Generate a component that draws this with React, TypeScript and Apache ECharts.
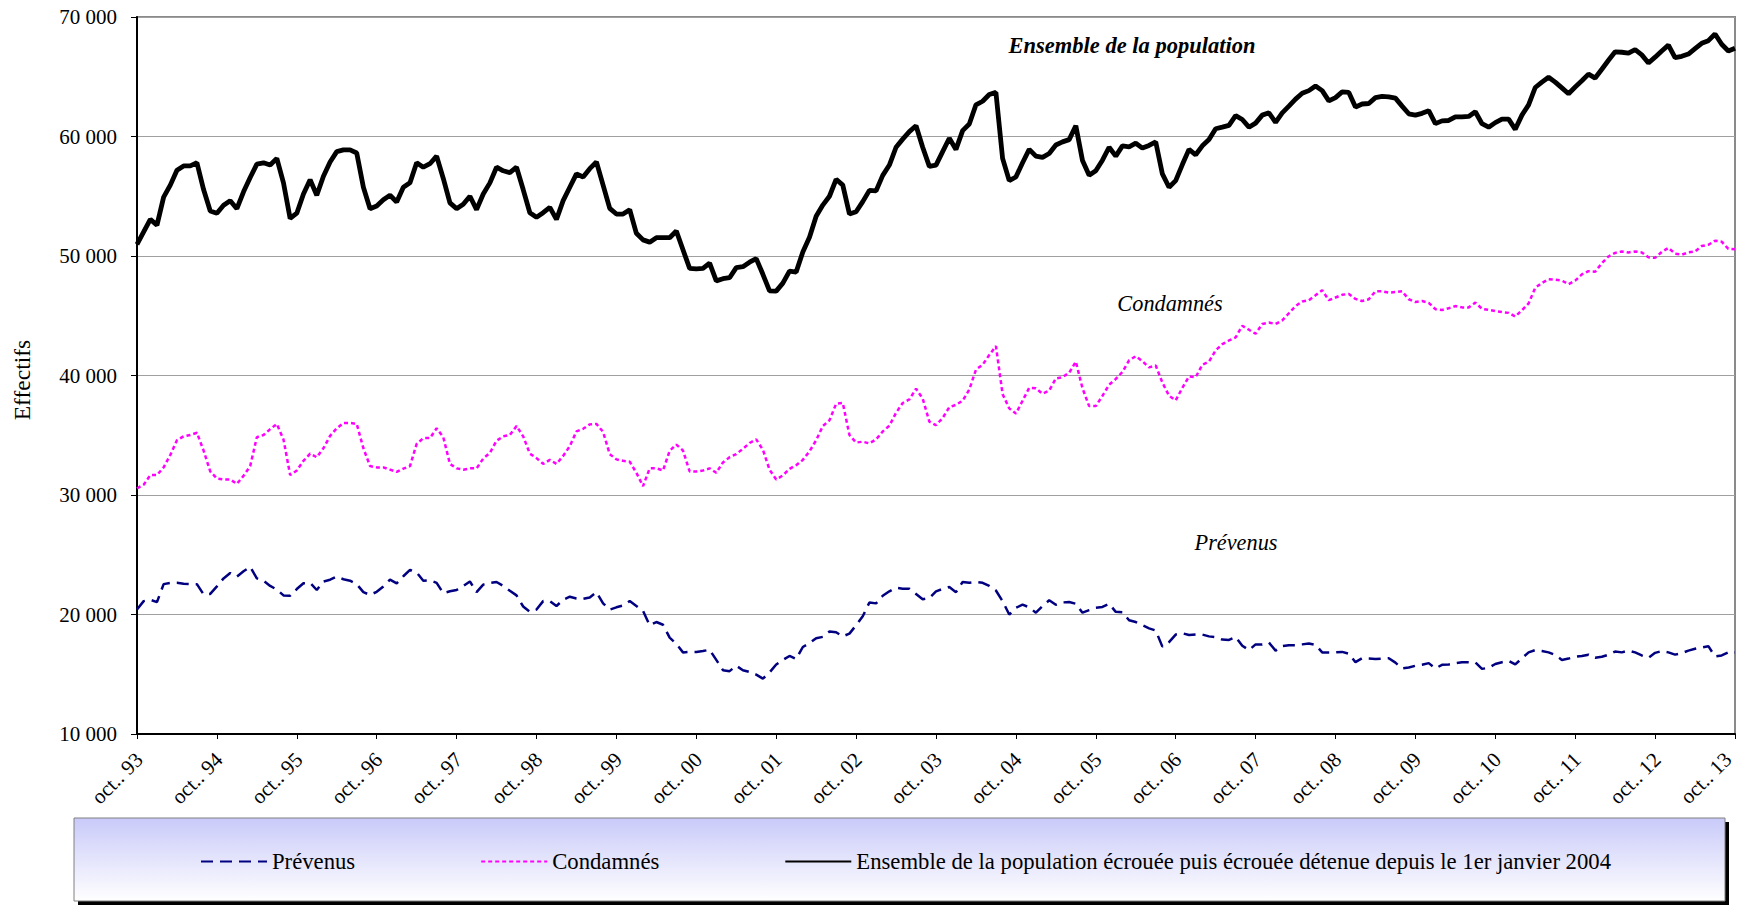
import React, { useEffect, useRef } from "react";
import * as echarts from "echarts";

// Monthly categories, octobre 1993 -> octobre 2013
const MONTH_ABBR = ["janv.", "févr.", "mars", "avr.", "mai", "juin", "juil.", "août", "sept.", "oct.", "nov.", "déc."];
const START_MONTH_INDEX = 9;
const START_YEAR = 1993;
const N_MONTHS = 241;
const CATEGORIES: string[] = [];
for (let i = 0; i < N_MONTHS; i++) {
  const k = START_MONTH_INDEX + i;
  const yy = String((START_YEAR + Math.floor(k / 12)) % 100).padStart(2, "0");
  CATEGORIES.push(`${MONTH_ABBR[k % 12]}. ${yy}`);
}

const Y_MIN = 10000;
const Y_MAX = 70000;
const Y_STEP = 10000;

const NAME_PREVENUS = "Prévenus";
const NAME_CONDAMNES = "Condamnés";
const NAME_ENSEMBLE = "Ensemble de la population écrouée puis écrouée détenue depuis le 1er janvier 2004";

const ENSEMBLE = [
  50970, 52020, 53060, 52580, 54930, 55930, 57170, 57540, 57540, 57800, 55560, 53770,
  53580, 54250, 54630, 53960, 55370, 56570, 57690, 57800, 57610, 58170, 56120, 53140,
  53580, 55190, 56380, 55080, 56680, 57870, 58730, 58880, 58880, 58620, 55750, 53960,
  54180, 54700, 55080, 54520, 55750, 56120, 57800, 57430, 57720, 58360, 56490, 54440,
  53960, 54330, 55000, 53880, 55190, 56120, 57430, 57130, 56980, 57430, 55560, 53620,
  53250, 53620, 54070, 53060, 54630, 55750, 56870, 56610, 57310, 57870, 55930, 53990,
  53510, 53510, 53880, 51900, 51350, 51160, 51530, 51530, 51530, 52090, 50520, 48960,
  48920, 48960, 49410, 47920, 48100, 48180, 49030, 49110, 49480, 49780, 48470, 47090,
  47060, 47730, 48740, 48660, 50340, 51570, 53320, 54260, 55000, 56420, 55930, 53510,
  53700, 54550, 55490, 55450, 56750, 57610, 59100, 59780, 60410, 60900, 59100, 57500,
  57610, 58730, 59850, 58920, 60490, 61040, 62650, 62950, 63510, 63690, 58170, 56310,
  56610, 57800, 58920, 58360, 58250, 58580, 59290, 59550, 59740, 60900, 57990, 56750,
  57130, 58020, 59100, 58360, 59220, 59140, 59440, 59030, 59250, 59550, 56870, 55750,
  56310, 57650, 58920, 58470, 59220, 59740, 60650, 60780, 60930, 61750, 61420, 60780,
  61120, 61790, 61980, 61190, 61980, 62540, 63130, 63620, 63840, 64220, 63840, 62980,
  63250, 63730, 63690, 62460, 62720, 62760, 63250, 63360, 63320, 63210, 62540, 61900,
  61790, 61940, 62160, 61080, 61310, 61340, 61640, 61640, 61680, 62070, 61070, 60780,
  61160, 61450, 61450, 60600, 61790, 62650, 64100, 64550, 64960, 64550, 64070, 63580,
  64140, 64660, 65220, 64890, 65630, 66380, 67090, 67050, 66980, 67270, 66830, 66150,
  66640, 67160, 67650, 66600, 66710, 66900, 67350, 67800, 68020, 68580, 67720, 67160,
  67390,
];

const CONDAMNES = [
  30560, 30860, 31670, 31670, 32310, 33350, 34580, 34910, 35020, 35210, 33720, 31970,
  31380, 31300, 31300, 30930, 31600, 32420, 34840, 35020, 35510, 35950, 34650, 31670,
  32050, 32860, 33460, 33160, 33910, 34950, 35580, 36030, 36030, 35950, 33910, 32420,
  32310, 32310, 32120, 31930, 32200, 32420, 34280, 34760, 34760, 35580, 34840, 32600,
  32230, 32120, 32230, 32230, 33050, 33530, 34540, 34910, 35020, 35770, 34910, 33460,
  33090, 32600, 32940, 32600, 33270, 34090, 35320, 35540, 35910, 35950, 35280, 33420,
  32980, 32860, 32790, 31860, 30740, 32230, 32230, 32050, 33700, 34220, 33720, 31970,
  31970, 32050, 32230, 31860, 32720, 33160, 33420, 33870, 34350, 34650, 33790, 32120,
  31300, 31640, 32190, 32490, 32940, 33650, 34580, 35770, 36250, 37630, 37700, 35020,
  34390, 34460, 34320, 34650, 35320, 35800, 36880, 37700, 38000, 38890, 38070, 36140,
  35840, 36450, 37350, 37550, 37890, 38820, 40490, 40900, 41720, 42460, 38440, 37250,
  36810, 37890, 38970, 38930, 38480, 38740, 39750, 39860, 40230, 41160, 38930, 37440,
  37440, 38300, 39230, 39710, 40300, 41270, 41610, 41200, 40680, 40830, 39410, 38300,
  37920, 38970, 39930, 39860, 40900, 41160, 42100, 42620, 42930, 43190, 44160, 43830,
  43490, 44310, 44430, 44310, 44610, 45210, 45810, 46190, 46300, 46710, 47130, 46300,
  46530, 46750, 46830, 46410, 46230, 46380, 47050, 47050, 46940, 46980, 47050, 46380,
  46150, 46230, 46080, 45550, 45480, 45630, 45810, 45700, 45700, 46100, 45580, 45490,
  45390, 45310, 45240, 44940, 45460, 46030, 47340, 47750, 48050, 48010, 47940, 47640,
  47940, 48460, 48730, 48690, 49400, 49960, 50260, 50380, 50300, 50380, 50300, 49890,
  49850, 50340, 50680, 50190, 50110, 50300, 50380, 50830, 50940, 51280, 51200, 50600,
  50560,
];

const PREVENUS = [
  20410, 21120, 21230, 21040, 22540, 22650, 22650, 22570, 22540, 22540, 21680, 21720,
  22350, 23020, 23470, 23170, 23620, 23990, 23020, 22830, 22390, 22090, 21600, 21570,
  22130, 22610, 22650, 22050, 22760, 22910, 23170, 22950, 22830, 22540, 21870, 21640,
  21900, 22350, 22910, 22610, 23200, 23730, 23510, 22830, 22870, 22650, 21790, 21940,
  22050, 22390, 22760, 21870, 22500, 22650, 22720, 22390, 21980, 21600, 20670, 20220,
  20410, 21120, 21120, 20710, 21230, 21490, 21340, 21310, 21420, 21870, 20930, 20410,
  20600, 20750, 21120, 20710, 20300, 19100, 19370, 19140, 18060, 17550, 16830, 16870,
  16870, 16940, 17050, 16200, 15340, 15260, 15710, 15340, 15190, 14970, 14630, 15150,
  15820, 16200, 16530, 16270, 17280, 17610, 18020, 18130, 18580, 18510, 18170, 18400,
  19100, 19850, 21010, 20930, 21570, 21940, 22240, 22160, 22160, 21720, 21270, 21380,
  21940, 22140, 22300, 21870, 22720, 22650, 22720, 22650, 22390, 22010, 21120, 20000,
  20560, 20820, 20600, 20150, 20710, 21190, 20820, 21010, 21040, 20900, 20150, 20370,
  20560, 20630, 20900, 20220, 20190, 19520, 19370, 19100, 18840, 18660, 17310, 17690,
  18320, 18430, 18280, 18320, 18320, 18170, 18100, 17900, 17870, 18130, 17390, 17020,
  17500, 17500, 17650, 16980, 17350, 17430, 17430, 17500, 17580, 17460, 16830, 16830,
  16830, 16870, 16720, 16010, 16340, 16310, 16270, 16310, 16340, 15970, 15490, 15560,
  15710, 15790, 15930, 15490, 15790, 15820, 15930, 16010, 16010, 15990, 15450, 15540,
  15860, 16010, 16120, 15820, 16340, 16830, 17020, 16940, 16830, 16610, 16200, 16310,
  16460, 16530, 16640, 16380, 16460, 16640, 16900, 16830, 16980, 16830, 16570, 16380,
  16790, 16940, 16830, 16640, 16760, 16980, 17130, 17240, 17350, 16490, 16570, 16830,
  16830,
];

const FONT = '"Liberation Serif", "Times New Roman", Times, serif';

function fmtThousands(v: number): string {
  const s = String(Math.round(v));
  return s.replace(/\B(?=(\d{3})+(?!\d))/g, " ");
}

export default function App() {
  const ref = useRef<HTMLDivElement>(null);

  useEffect(() => {
    if (!ref.current) return;
    const chart = echarts.init(ref.current, undefined, { renderer: "svg" });
    const lastIndex = CATEGORIES.length - 1;

    const option: any = {
      animation: false,
      backgroundColor: "#ffffff",
      textStyle: { fontFamily: FONT },
      grid: {
        left: 137,
        right: 3,
        top: 17,
        bottom: 171,
        containLabel: false,
        outerBoundsMode: "none",
        show: true,
        borderColor: "#8a8a8a",
        borderWidth: 2,
        backgroundColor: "transparent",
      },
      xAxis: {
        type: "category",
        data: CATEGORIES,
        boundaryGap: false,
        axisLine: { show: true, lineStyle: { color: "#000000", width: 2 } },
        axisTick: {
          show: true,
          length: 5,
          interval: (i: number) => i % 12 === 0,
          lineStyle: { color: "#000000", width: 1 },
        },
        axisLabel: {
          // the last label (at the right edge) is drawn as a graphic text below so it stays inside the page
          interval: (i: number) => i % 12 === 0 && i !== lastIndex,
          rotate: 45,
          margin: 20,
          verticalAlign: "top",
          lineHeight: 6,
          hideOverlap: false,
          fontFamily: FONT,
          fontSize: 21,
          color: "#000000",
        },
        splitLine: { show: false },
      },
      yAxis: {
        type: "value",
        min: Y_MIN,
        max: Y_MAX,
        interval: Y_STEP,
        axisLine: { show: true, lineStyle: { color: "#000000", width: 2 } },
        axisTick: { show: true, length: 6, lineStyle: { color: "#000000", width: 1 } },
        axisLabel: {
          margin: 20,
          fontFamily: FONT,
          fontSize: 21,
          color: "#000000",
          formatter: (v: number) => fmtThousands(v),
        },
        splitLine: { show: true, lineStyle: { color: "#a0a0a0", width: 1 } },
      },
      legend: {
        show: true,
        left: 195,
        top: 845,
        orient: "horizontal",
        itemWidth: 66,
        itemHeight: 14,
        itemGap: 125,
        z: 10,
        itemStyle: { opacity: 0, color: "transparent", borderWidth: 0 },
        textStyle: { fontFamily: FONT, fontSize: 22.7, color: "#000000" },
        data: [NAME_PREVENUS, NAME_CONDAMNES, NAME_ENSEMBLE],
      },
      graphic: [
        {
          type: "rect",
          z: 0,
          silent: true,
          shape: { x: 78, y: 822, width: 1651, height: 83 },
          style: { fill: "#000000" },
        },
        {
          type: "rect",
          z: 1,
          silent: true,
          shape: { x: 74, y: 818, width: 1651, height: 83 },
          style: {
            fill: new echarts.graphic.LinearGradient(0, 0, 0, 1, [
              { offset: 0, color: "#c9caf9" },
              { offset: 1, color: "#ffffff" },
            ]),
            stroke: "#808080",
            lineWidth: 1,
          },
        },
        {
          type: "text",
          z: 5,
          silent: true,
          x: 1728,
          y: 756,
          rotation: Math.PI / 4,
          style: {
            text: CATEGORIES[lastIndex],
            fontFamily: FONT,
            fontSize: 21,
            fill: "#000000",
            textAlign: "right",
            textVerticalAlign: "middle",
            align: "right",
            verticalAlign: "middle",
          },
        },
        {
          type: "text",
          z: 5,
          silent: true,
          x: 1132,
          y: 45,
          style: {
            text: "Ensemble de la population",
            fontFamily: FONT,
            fontSize: 22.5,
            fontStyle: "italic",
            fontWeight: "bold",
            fill: "#000000",
            textAlign: "center",
            textVerticalAlign: "middle",
            align: "center",
            verticalAlign: "middle",
          },
        },
        {
          type: "text",
          z: 5,
          silent: true,
          x: 1170,
          y: 303,
          style: {
            text: "Condamnés",
            fontFamily: FONT,
            fontSize: 22.3,
            fontStyle: "italic",
            fill: "#000000",
            textAlign: "center",
            textVerticalAlign: "middle",
            align: "center",
            verticalAlign: "middle",
          },
        },
        {
          type: "text",
          z: 5,
          silent: true,
          x: 1236,
          y: 542,
          style: {
            text: "Prévenus",
            fontFamily: FONT,
            fontSize: 22.3,
            fontStyle: "italic",
            fill: "#000000",
            textAlign: "center",
            textVerticalAlign: "middle",
            align: "center",
            verticalAlign: "middle",
          },
        },
        {
          type: "text",
          z: 5,
          silent: true,
          x: 22,
          y: 380,
          rotation: Math.PI / 2,
          style: {
            text: "Effectifs",
            fontFamily: FONT,
            fontSize: 23.5,
            fill: "#000000",
            textAlign: "center",
            textVerticalAlign: "middle",
            align: "center",
            verticalAlign: "middle",
          },
        },
      ],
      series: [
        {
          name: NAME_PREVENUS,
          type: "line",
          data: PREVENUS,
          symbol: "none",
          smooth: false,
          z: 3,
          lineStyle: { color: "#000080", width: 2.5, type: [12, 7] },
          itemStyle: { color: "#000080" },
        },
        {
          name: NAME_CONDAMNES,
          type: "line",
          data: CONDAMNES,
          symbol: "none",
          smooth: false,
          z: 3,
          lineStyle: { color: "#ff00ff", width: 2.5, type: [4, 3] },
          itemStyle: { color: "#ff00ff" },
        },
        {
          name: NAME_ENSEMBLE,
          type: "line",
          data: ENSEMBLE,
          symbol: "none",
          smooth: false,
          z: 4,
          lineStyle: { color: "#000000", width: 4.8, type: "solid" },
          itemStyle: { color: "#000000" },
        },
      ],
    };

    chart.setOption(option);
    return () => {
      chart.dispose();
    };
  }, []);

  return (
    <div
      ref={ref}
      style={{ position: "fixed", left: 0, top: 0, width: 1738, height: 905, background: "#ffffff" }}
    />
  );
}
